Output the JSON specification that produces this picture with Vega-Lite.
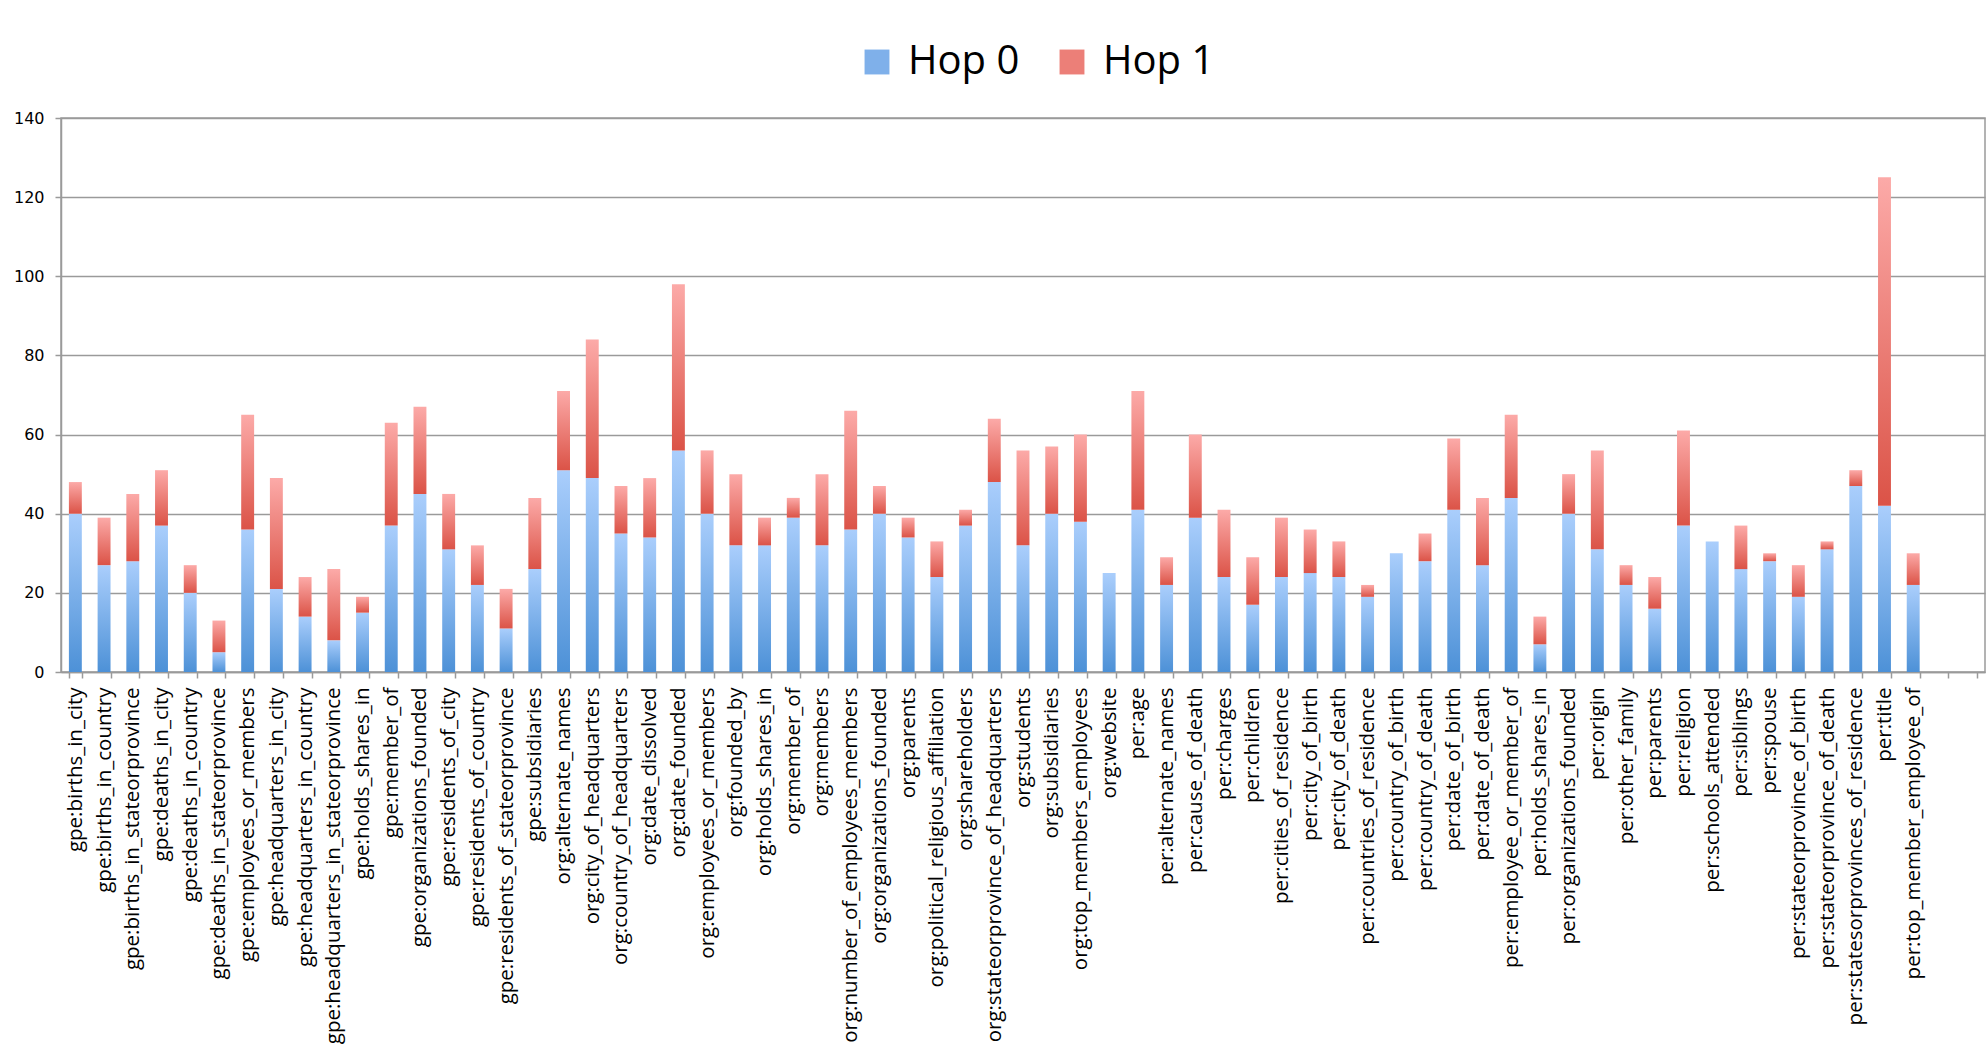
{
  "$schema": "https://vega.github.io/schema/vega-lite/v6.json",
  "width": 1924,
  "height": 554,
  "autosize": {"type": "none"},
  "padding": {"left": 61, "top": 118, "right": 3, "bottom": 388},
  "background": "white",
  "config": {
    "view": {"stroke": "#9a9a9a", "strokeWidth": 1.5},
    "axis": {"domainColor": "#9a9a9a", "domainWidth": 1.5, "tickColor": "#9a9a9a", "tickWidth": 1.5, "labelColor": "black", "title": null}
  },
  "data": {"values": [
    {"r":"gpe:births_in_city","h":"Hop 0","n":40},{"r":"gpe:births_in_city","h":"Hop 1","n":8},
    {"r":"gpe:births_in_country","h":"Hop 0","n":27},{"r":"gpe:births_in_country","h":"Hop 1","n":12},
    {"r":"gpe:births_in_stateorprovince","h":"Hop 0","n":28},{"r":"gpe:births_in_stateorprovince","h":"Hop 1","n":17},
    {"r":"gpe:deaths_in_city","h":"Hop 0","n":37},{"r":"gpe:deaths_in_city","h":"Hop 1","n":14},
    {"r":"gpe:deaths_in_country","h":"Hop 0","n":20},{"r":"gpe:deaths_in_country","h":"Hop 1","n":7},
    {"r":"gpe:deaths_in_stateorprovince","h":"Hop 0","n":5},{"r":"gpe:deaths_in_stateorprovince","h":"Hop 1","n":8},
    {"r":"gpe:employees_or_members","h":"Hop 0","n":36},{"r":"gpe:employees_or_members","h":"Hop 1","n":29},
    {"r":"gpe:headquarters_in_city","h":"Hop 0","n":21},{"r":"gpe:headquarters_in_city","h":"Hop 1","n":28},
    {"r":"gpe:headquarters_in_country","h":"Hop 0","n":14},{"r":"gpe:headquarters_in_country","h":"Hop 1","n":10},
    {"r":"gpe:headquarters_in_stateorprovince","h":"Hop 0","n":8},{"r":"gpe:headquarters_in_stateorprovince","h":"Hop 1","n":18},
    {"r":"gpe:holds_shares_in","h":"Hop 0","n":15},{"r":"gpe:holds_shares_in","h":"Hop 1","n":4},
    {"r":"gpe:member_of","h":"Hop 0","n":37},{"r":"gpe:member_of","h":"Hop 1","n":26},
    {"r":"gpe:organizations_founded","h":"Hop 0","n":45},{"r":"gpe:organizations_founded","h":"Hop 1","n":22},
    {"r":"gpe:residents_of_city","h":"Hop 0","n":31},{"r":"gpe:residents_of_city","h":"Hop 1","n":14},
    {"r":"gpe:residents_of_country","h":"Hop 0","n":22},{"r":"gpe:residents_of_country","h":"Hop 1","n":10},
    {"r":"gpe:residents_of_stateorprovince","h":"Hop 0","n":11},{"r":"gpe:residents_of_stateorprovince","h":"Hop 1","n":10},
    {"r":"gpe:subsidiaries","h":"Hop 0","n":26},{"r":"gpe:subsidiaries","h":"Hop 1","n":18},
    {"r":"org:alternate_names","h":"Hop 0","n":51},{"r":"org:alternate_names","h":"Hop 1","n":20},
    {"r":"org:city_of_headquarters","h":"Hop 0","n":49},{"r":"org:city_of_headquarters","h":"Hop 1","n":35},
    {"r":"org:country_of_headquarters","h":"Hop 0","n":35},{"r":"org:country_of_headquarters","h":"Hop 1","n":12},
    {"r":"org:date_dissolved","h":"Hop 0","n":34},{"r":"org:date_dissolved","h":"Hop 1","n":15},
    {"r":"org:date_founded","h":"Hop 0","n":56},{"r":"org:date_founded","h":"Hop 1","n":42},
    {"r":"org:employees_or_members","h":"Hop 0","n":40},{"r":"org:employees_or_members","h":"Hop 1","n":16},
    {"r":"org:founded_by","h":"Hop 0","n":32},{"r":"org:founded_by","h":"Hop 1","n":18},
    {"r":"org:holds_shares_in","h":"Hop 0","n":32},{"r":"org:holds_shares_in","h":"Hop 1","n":7},
    {"r":"org:member_of","h":"Hop 0","n":39},{"r":"org:member_of","h":"Hop 1","n":5},
    {"r":"org:members","h":"Hop 0","n":32},{"r":"org:members","h":"Hop 1","n":18},
    {"r":"org:number_of_employees_members","h":"Hop 0","n":36},{"r":"org:number_of_employees_members","h":"Hop 1","n":30},
    {"r":"org:organizations_founded","h":"Hop 0","n":40},{"r":"org:organizations_founded","h":"Hop 1","n":7},
    {"r":"org:parents","h":"Hop 0","n":34},{"r":"org:parents","h":"Hop 1","n":5},
    {"r":"org:political_religious_affiliation","h":"Hop 0","n":24},{"r":"org:political_religious_affiliation","h":"Hop 1","n":9},
    {"r":"org:shareholders","h":"Hop 0","n":37},{"r":"org:shareholders","h":"Hop 1","n":4},
    {"r":"org:stateorprovince_of_headquarters","h":"Hop 0","n":48},{"r":"org:stateorprovince_of_headquarters","h":"Hop 1","n":16},
    {"r":"org:students","h":"Hop 0","n":32},{"r":"org:students","h":"Hop 1","n":24},
    {"r":"org:subsidiaries","h":"Hop 0","n":40},{"r":"org:subsidiaries","h":"Hop 1","n":17},
    {"r":"org:top_members_employees","h":"Hop 0","n":38},{"r":"org:top_members_employees","h":"Hop 1","n":22},
    {"r":"org:website","h":"Hop 0","n":25},
    {"r":"per:age","h":"Hop 0","n":41},{"r":"per:age","h":"Hop 1","n":30},
    {"r":"per:alternate_names","h":"Hop 0","n":22},{"r":"per:alternate_names","h":"Hop 1","n":7},
    {"r":"per:cause_of_death","h":"Hop 0","n":39},{"r":"per:cause_of_death","h":"Hop 1","n":21},
    {"r":"per:charges","h":"Hop 0","n":24},{"r":"per:charges","h":"Hop 1","n":17},
    {"r":"per:children","h":"Hop 0","n":17},{"r":"per:children","h":"Hop 1","n":12},
    {"r":"per:cities_of_residence","h":"Hop 0","n":24},{"r":"per:cities_of_residence","h":"Hop 1","n":15},
    {"r":"per:city_of_birth","h":"Hop 0","n":25},{"r":"per:city_of_birth","h":"Hop 1","n":11},
    {"r":"per:city_of_death","h":"Hop 0","n":24},{"r":"per:city_of_death","h":"Hop 1","n":9},
    {"r":"per:countries_of_residence","h":"Hop 0","n":19},{"r":"per:countries_of_residence","h":"Hop 1","n":3},
    {"r":"per:country_of_birth","h":"Hop 0","n":30},
    {"r":"per:country_of_death","h":"Hop 0","n":28},{"r":"per:country_of_death","h":"Hop 1","n":7},
    {"r":"per:date_of_birth","h":"Hop 0","n":41},{"r":"per:date_of_birth","h":"Hop 1","n":18},
    {"r":"per:date_of_death","h":"Hop 0","n":27},{"r":"per:date_of_death","h":"Hop 1","n":17},
    {"r":"per:employee_or_member_of","h":"Hop 0","n":44},{"r":"per:employee_or_member_of","h":"Hop 1","n":21},
    {"r":"per:holds_shares_in","h":"Hop 0","n":7},{"r":"per:holds_shares_in","h":"Hop 1","n":7},
    {"r":"per:organizations_founded","h":"Hop 0","n":40},{"r":"per:organizations_founded","h":"Hop 1","n":10},
    {"r":"per:origin","h":"Hop 0","n":31},{"r":"per:origin","h":"Hop 1","n":25},
    {"r":"per:other_family","h":"Hop 0","n":22},{"r":"per:other_family","h":"Hop 1","n":5},
    {"r":"per:parents","h":"Hop 0","n":16},{"r":"per:parents","h":"Hop 1","n":8},
    {"r":"per:religion","h":"Hop 0","n":37},{"r":"per:religion","h":"Hop 1","n":24},
    {"r":"per:schools_attended","h":"Hop 0","n":33},
    {"r":"per:siblings","h":"Hop 0","n":26},{"r":"per:siblings","h":"Hop 1","n":11},
    {"r":"per:spouse","h":"Hop 0","n":28},{"r":"per:spouse","h":"Hop 1","n":2},
    {"r":"per:stateorprovince_of_birth","h":"Hop 0","n":19},{"r":"per:stateorprovince_of_birth","h":"Hop 1","n":8},
    {"r":"per:stateorprovince_of_death","h":"Hop 0","n":31},{"r":"per:stateorprovince_of_death","h":"Hop 1","n":2},
    {"r":"per:statesorprovinces_of_residence","h":"Hop 0","n":47},{"r":"per:statesorprovinces_of_residence","h":"Hop 1","n":4},
    {"r":"per:title","h":"Hop 0","n":42},{"r":"per:title","h":"Hop 1","n":83},
    {"r":"per:top_member_employee_of","h":"Hop 0","n":22},{"r":"per:top_member_employee_of","h":"Hop 1","n":8}
  ]},
  "encoding": {
    "x": {
      "field": "r", "type": "nominal", "sort": null,
      "scale": {
        "domain": ["gpe:births_in_city","gpe:births_in_country","gpe:births_in_stateorprovince","gpe:deaths_in_city","gpe:deaths_in_country","gpe:deaths_in_stateorprovince","gpe:employees_or_members","gpe:headquarters_in_city","gpe:headquarters_in_country","gpe:headquarters_in_stateorprovince","gpe:holds_shares_in","gpe:member_of","gpe:organizations_founded","gpe:residents_of_city","gpe:residents_of_country","gpe:residents_of_stateorprovince","gpe:subsidiaries","org:alternate_names","org:city_of_headquarters","org:country_of_headquarters","org:date_dissolved","org:date_founded","org:employees_or_members","org:founded_by","org:holds_shares_in","org:member_of","org:members","org:number_of_employees_members","org:organizations_founded","org:parents","org:political_religious_affiliation","org:shareholders","org:stateorprovince_of_headquarters","org:students","org:subsidiaries","org:top_members_employees","org:website","per:age","per:alternate_names","per:cause_of_death","per:charges","per:children","per:cities_of_residence","per:city_of_birth","per:city_of_death","per:countries_of_residence","per:country_of_birth","per:country_of_death","per:date_of_birth","per:date_of_death","per:employee_or_member_of","per:holds_shares_in","per:organizations_founded","per:origin","per:other_family","per:parents","per:religion","per:schools_attended","per:siblings","per:spouse","per:stateorprovince_of_birth","per:stateorprovince_of_death","per:statesorprovinces_of_residence","per:title","per:top_member_employee_of"," ","  "],
        "paddingInner": 0.55,
        "paddingOuter": 0.275
      },
      "axis": {
        "labelAngle": -90, "labelFont": "Open Sans", "labelFontSize": 20.5, "labelLimit": 500,
        "tickBand": "extent", "tickSize": 6, "labelPadding": 9, "grid": false
      }
    },
    "y": {
      "field": "n", "type": "quantitative", "stack": "zero",
      "scale": {"domain": [0, 140], "nice": false},
      "axis": {
        "values": [0, 20, 40, 60, 80, 100, 120, 140],
        "labelFont": "DejaVu Sans", "labelFontSize": 16, "tickSize": 6, "labelPadding": 11,
        "grid": true, "gridColor": "#9a9a9a", "gridWidth": 1.5
      }
    },
    "order": {"field": "h", "sort": "ascending"}
  },
  "layer": [
    {
      "mark": {"type": "bar"},
      "encoding": {
        "fill": {
          "condition": {
            "test": "datum['h'] === 'Hop 0'",
            "value": {"gradient": "linear", "x1": 0, "y1": 0, "x2": 0, "y2": 1, "stops": [{"offset": 0, "color": "#aacefc"}, {"offset": 1, "color": "#4d91d7"}]}
          },
          "value": {"gradient": "linear", "x1": 0, "y1": 0, "x2": 0, "y2": 1, "stops": [{"offset": 0, "color": "#fcaaa8"}, {"offset": 1, "color": "#db5347"}]}
        }
      }
    },
    {
      "mark": {"type": "bar", "opacity": 0},
      "encoding": {
        "color": {
          "field": "h", "type": "nominal",
          "scale": {"domain": ["Hop 0", "Hop 1"], "range": ["#7fb0ea", "#ec7f78"]},
          "legend": {
            "title": null, "orient": "none", "direction": "horizontal",
            "legendX": 796, "legendY": -76,
            "symbolType": "square", "symbolSize": 620, "symbolStrokeWidth": 0, "symbolOpacity": 1,
            "labelFont": "Open Sans", "labelFontSize": 40, "labelColor": "black",
            "labelOffset": 11, "columnPadding": 32, "labelLimit": 300
          }
        }
      }
    }
  ]
}
